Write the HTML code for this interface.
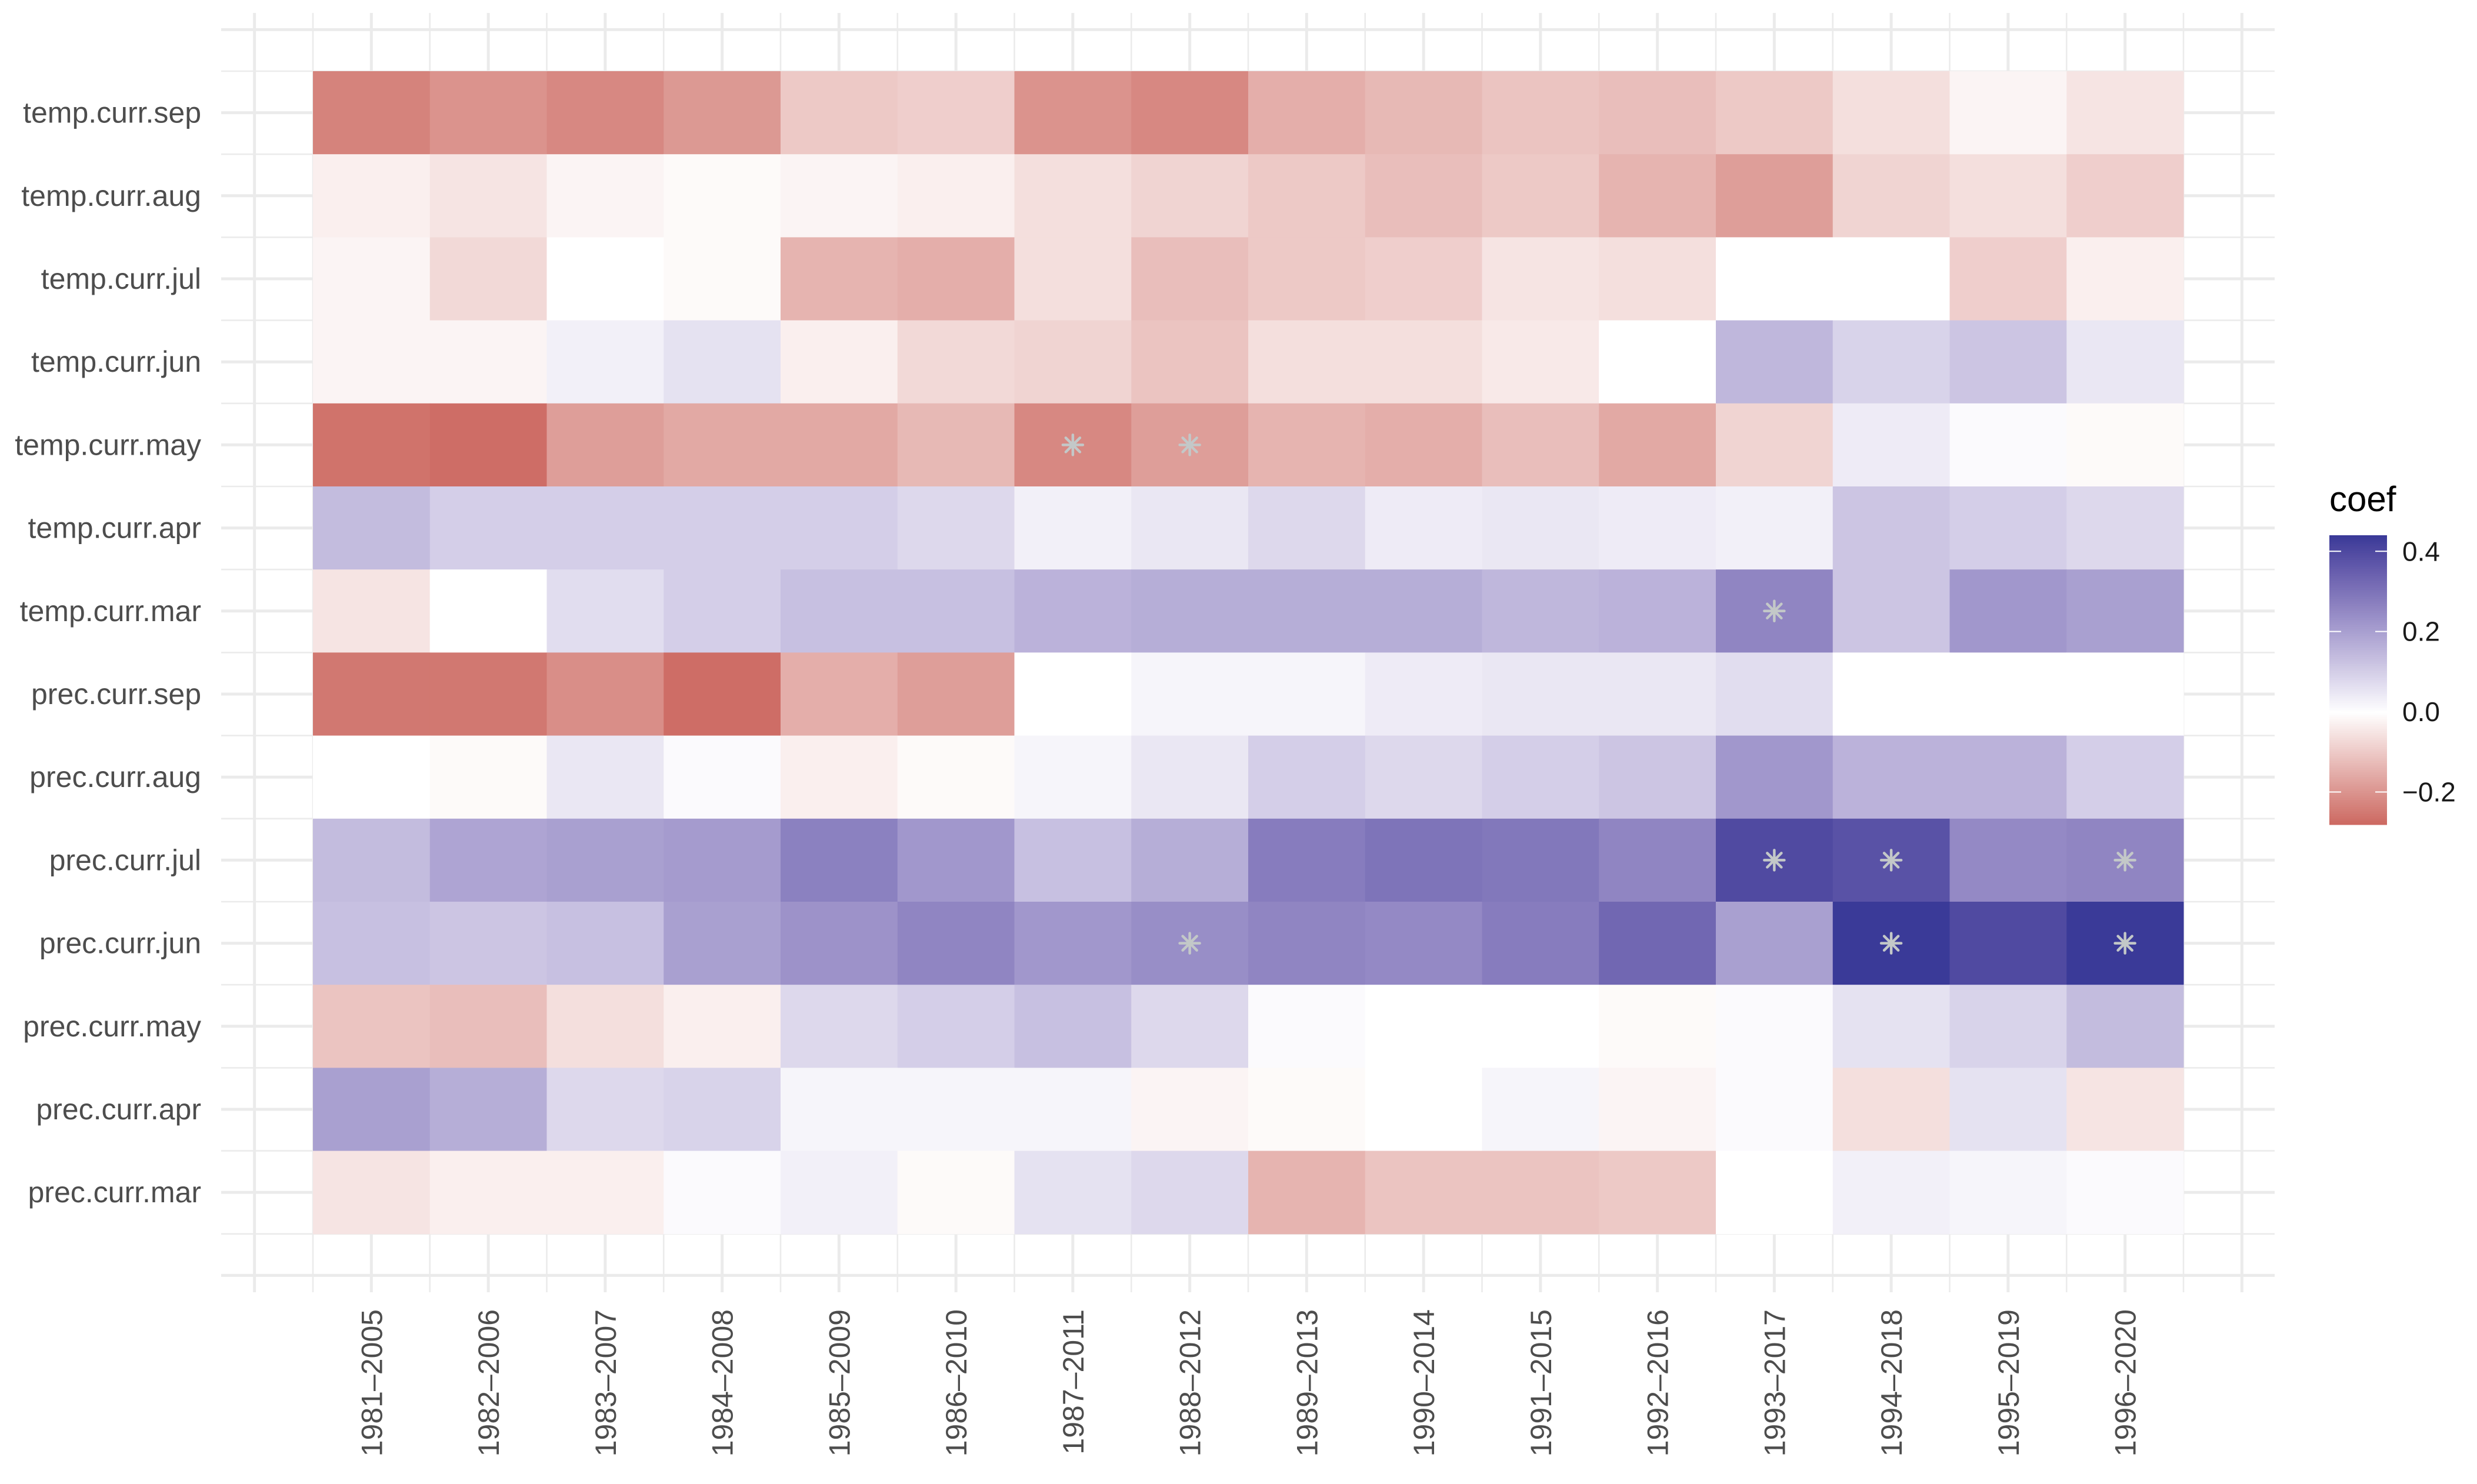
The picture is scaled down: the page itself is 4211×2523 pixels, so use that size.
<!DOCTYPE html>
<html><head><meta charset="utf-8"><style>
html,body{margin:0;padding:0;background:#fff}
svg{display:block;font-family:"Liberation Sans",Arial,sans-serif}
</style></head><body>
<svg id="chart" width="4211" height="2523" viewBox="0 0 4211 2523" xmlns="http://www.w3.org/2000/svg">
<rect width="4211" height="2523" fill="#fff"/>
<g id="grid"></g>
<g id="tiles"></g>
<g id="stars"></g>
<g id="ylab"></g>
<g id="xlab"></g>
<g id="legend"></g>
</svg>
<script>
const periods = ["1981–2005","1982–2006","1983–2007","1984–2008","1985–2009","1986–2010","1987–2011","1988–2012","1989–2013","1990–2014","1991–2015","1992–2016","1993–2017","1994–2018","1995–2019","1996–2020"];
const variables = ["temp.curr.sep","temp.curr.aug","temp.curr.jul","temp.curr.jun","temp.curr.may","temp.curr.apr","temp.curr.mar","prec.curr.sep","prec.curr.aug","prec.curr.jul","prec.curr.jun","prec.curr.may","prec.curr.apr","prec.curr.mar"];
const coefTempSep = [-0.23,-0.20,-0.22,-0.19,-0.10,-0.09,-0.20,-0.22,-0.15,-0.13,-0.11,-0.12,-0.10,-0.06,-0.02,-0.05];
const coefTempAug = [-0.03,-0.05,-0.02,-0.01,-0.02,-0.03,-0.06,-0.08,-0.10,-0.12,-0.10,-0.14,-0.18,-0.08,-0.06,-0.09];
const coefTempJul = [-0.02,-0.07,0.00,-0.01,-0.14,-0.15,-0.06,-0.12,-0.10,-0.09,-0.05,-0.06,0.00,0.00,-0.09,-0.03];
const coefTempJun = [-0.02,-0.02,0.03,0.06,-0.03,-0.07,-0.08,-0.11,-0.06,-0.06,-0.04,0.00,0.15,0.09,0.12,0.05];
const coefTempMay = [-0.26,-0.27,-0.18,-0.16,-0.16,-0.13,-0.22,-0.18,-0.14,-0.15,-0.12,-0.16,-0.08,0.04,0.01,-0.01];
const coefTempApr = [0.14,0.10,0.10,0.10,0.10,0.08,0.03,0.05,0.08,0.04,0.05,0.04,0.03,0.12,0.10,0.08];
const coefTempMar = [-0.05,0.00,0.07,0.10,0.13,0.13,0.16,0.17,0.17,0.17,0.15,0.16,0.26,0.12,0.22,0.20];
const coefPrecSep = [-0.25,-0.25,-0.21,-0.27,-0.15,-0.18,0.00,0.02,0.02,0.04,0.05,0.05,0.07,0.00,0.00,0.00];
const coefPrecAug = [0.00,-0.01,0.05,0.01,-0.03,-0.01,0.02,0.05,0.10,0.08,0.10,0.12,0.22,0.16,0.16,0.10];
const coefPrecJul = [0.14,0.19,0.20,0.21,0.27,0.22,0.13,0.17,0.28,0.30,0.29,0.26,0.40,0.38,0.25,0.26];
const coefPrecJun = [0.13,0.12,0.13,0.20,0.23,0.26,0.22,0.24,0.26,0.25,0.28,0.33,0.20,0.44,0.40,0.44];
const coefPrecMay = [-0.11,-0.12,-0.06,-0.03,0.08,0.10,0.13,0.08,0.01,0.00,0.00,-0.01,0.01,0.06,0.09,0.14];
const coefPrecApr = [0.20,0.17,0.08,0.09,0.02,0.02,0.02,-0.02,-0.01,0.00,0.02,-0.02,0.01,-0.06,0.06,-0.05];
const coefPrecMar = [-0.05,-0.03,-0.03,0.01,0.03,-0.01,0.06,0.08,-0.14,-0.11,-0.11,-0.10,0.00,0.03,0.02,0.01];
const significant = [["temp.curr.may","1987–2011"],["temp.curr.may","1988–2012"],["temp.curr.mar","1993–2017"],["prec.curr.jul","1993–2017"],["prec.curr.jul","1994–2018"],["prec.curr.jul","1996–2020"],["prec.curr.jun","1988–2012"],["prec.curr.jun","1994–2018"],["prec.curr.jun","1996–2020"]];
const legendTicks = [0.4,0.2,0.0,-0.2];
const legendTickLabels = ["0.4","0.2","0.0","\u22120.2"];

const rows = [coefTempSep,coefTempAug,coefTempJul,coefTempJun,coefTempMay,coefTempApr,coefTempMar,coefPrecSep,coefPrecAug,coefPrecJul,coefPrecJun,coefPrecMay,coefPrecApr,coefPrecMar];
const NS="http://www.w3.org/2000/svg";
const X0=532, CW=198.75, Y0=121, RH=141.2;
const xPos = i => X0 + i*CW;
const yPos = j => Y0 + j*RH;
const limMin=-0.28, limMax=0.44;

function s2l(c){c/=255;return c<=0.04045?c/12.92:Math.pow((c+0.055)/1.055,2.4);}
function l2s(c){c=c<=0.0031308?12.92*c:1.055*Math.pow(c,1/2.4)-0.055;return Math.max(0,Math.min(255,Math.round(c*255)));}
function toLab(h){const r=s2l(h[0]),g=s2l(h[1]),b=s2l(h[2]);
 let x=(r*0.4124+g*0.3576+b*0.1805)/0.95047,y=r*0.2126+g*0.7152+b*0.0722,z=(r*0.0193+g*0.1192+b*0.9505)/1.08883;
 const f=t=>t>0.008856?Math.cbrt(t):7.787*t+16/116;
 return [116*f(y)-16,500*(f(x)-f(y)),200*(f(y)-f(z))];}
function fromLab(L){const fy=(L[0]+16)/116,fx=fy+L[1]/500,fz=fy-L[2]/200;
 const g=t=>t*t*t>0.008856?t*t*t:(t-16/116)/7.787;
 const x=g(fx)*0.95047,y=g(fy),z=g(fz)*1.08883;
 const r=x*3.2406+y*-1.5372+z*-0.4986,gg=x*-0.9689+y*1.8758+z*0.0415,b=x*0.0557+y*-0.2040+z*1.0570;
 return `rgb(${l2s(r)},${l2s(gg)},${l2s(b)})`;}
const MID=toLab([255,255,255]), HIGH=toLab([58,58,152]);
const REDEND=[204,104,96];
function colour(v){
 if(v<0){const t=Math.min(1,-v/0.28);
  return `rgb(${Math.round(255+(REDEND[0]-255)*t)},${Math.round(255+(REDEND[1]-255)*t)},${Math.round(255+(REDEND[2]-255)*t)})`;}
 const t=Math.min(1,v/0.44);
 return fromLab([MID[0]+(HIGH[0]-MID[0])*t,MID[1]+(HIGH[1]-MID[1])*t,MID[2]+(HIGH[2]-MID[2])*t]);}

function mk(tag,attrs,parent){const e=document.createElementNS(NS,tag);for(const k in attrs)e.setAttribute(k,attrs[k]);parent.appendChild(e);return e;}

const grid=document.getElementById('grid');
const PL=376,PR=3867,PT=22,PB=2197;
for(let k=-1;k<=2*periods.length+1;k++){const x=X0+k*CW/2;if(x<PL||x>PR)continue;
 const l=mk('line',{x1:x,x2:x,y1:PT,y2:PB,stroke:'#ebebeb','stroke-width':k%2?5:2.6},grid);
 }
for(let k=-1;k<=2*variables.length+1;k++){const y=Y0+k*RH/2;if(y<PT||y>PB)continue;
 const l=mk('line',{x1:PL,x2:PR,y1:y,y2:y,stroke:'#ebebeb','stroke-width':k%2?5:2.6},grid);
 }

const tiles=document.getElementById('tiles');
rows.forEach((vals,j)=>vals.forEach((v,i)=>{
 const r=mk('rect',{x:xPos(i),y:yPos(j),width:CW+0.5,height:RH+0.5,fill:colour(v)},tiles);
 
 
}));

const stars=document.getElementById('stars');
significant.forEach(s=>{const j=variables.indexOf(s[0]),i=periods.indexOf(s[1]);
 const cx=xPos(i)+CW/2,cy=yPos(j)+RH/2;
 const g=mk('g',{stroke:'#c3c8c8','stroke-width':4.5,'stroke-linecap':'round'},stars);
 
 
 for(let a=0;a<4;a++){const t=a*Math.PI/4,dx=17*Math.cos(t),dy=17*Math.sin(t);
  mk('line',{x1:cx-dx,y1:cy-dy,x2:cx+dx,y2:cy+dy},g);}
});

const ylab=document.getElementById('ylab');
variables.forEach((v,j)=>{const t=mk('text',{x:342,y:yPos(j)+RH/2+17,'text-anchor':'end','font-size':50,fill:'#4d4d4d'},ylab);
 t.textContent=v;});
const xlab=document.getElementById('xlab');
periods.forEach((p,i)=>{const cx=xPos(i)+CW/2+18,cy=2226;
 const t=mk('text',{x:cx,y:cy,'text-anchor':'end','font-size':50,fill:'#4d4d4d',transform:`rotate(-90 ${cx} ${cy})`},xlab);
 t.textContent=p;});

const lg=document.getElementById('legend');
const LX=3960,LW=98,LT=910,LB=1401;
const vAtTop=0.44,vAtBot=-0.28;
const ly=v=>LT+(vAtTop-v)/(vAtTop-vAtBot)*(LB-LT);
const title=mk('text',{x:3960,y:869,'font-size':60,fill:'#000'},lg);title.textContent='coef';

const bar=mk('g',{},lg);
for(let y=LT;y<LB;y+=3){const v=vAtTop-(y-LT)/(LB-LT)*(vAtTop-vAtBot);mk('rect',{x:LX,y:y,width:LW,height:3.5,fill:colour(v)},bar);}
legendTicks.forEach((v,k)=>{const y=ly(v);
 mk('line',{x1:LX,x2:LX+20,y1:y,y2:y,stroke:'#fff','stroke-width':2},lg);
 mk('line',{x1:LX+LW-20,x2:LX+LW,y1:y,y2:y,stroke:'#fff','stroke-width':2},lg);
 const t=mk('text',{x:4084,y:y+16,'font-size':46,fill:'#1a1a1a'},lg);t.textContent=legendTickLabels[k];
 });
</script>
</body></html>
